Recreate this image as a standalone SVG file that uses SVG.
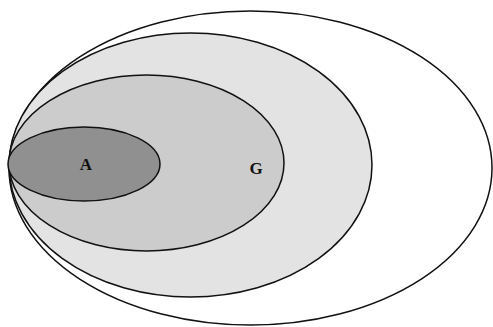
<svg xmlns="http://www.w3.org/2000/svg" width="493" height="327" viewBox="0 0 493 327">
<style>
.e{stroke:#111;stroke-width:1.5}
.t{font-family:"Liberation Serif",serif;font-weight:bold;font-size:17px;fill:#111;text-anchor:middle}
</style>
<rect width="493" height="327" fill="#ffffff"/>
<g id="outer"><ellipse class="e" cx="250.5" cy="168" rx="241.5" ry="157" fill="#ffffff"/></g>
<g id="light"><ellipse class="e" cx="190.5" cy="165" rx="181.5" ry="132" fill="#e3e3e3"/></g>
<g id="G"><ellipse class="e" cx="146.5" cy="163" rx="137.5" ry="88" fill="#cccccc"/><text class="t" x="256" y="174">G</text></g>
<g id="A"><ellipse class="e" cx="84" cy="164" rx="76" ry="37" fill="#909090"/><text class="t" x="86" y="170">A</text></g>
<g id="connectors"/>
</svg>
